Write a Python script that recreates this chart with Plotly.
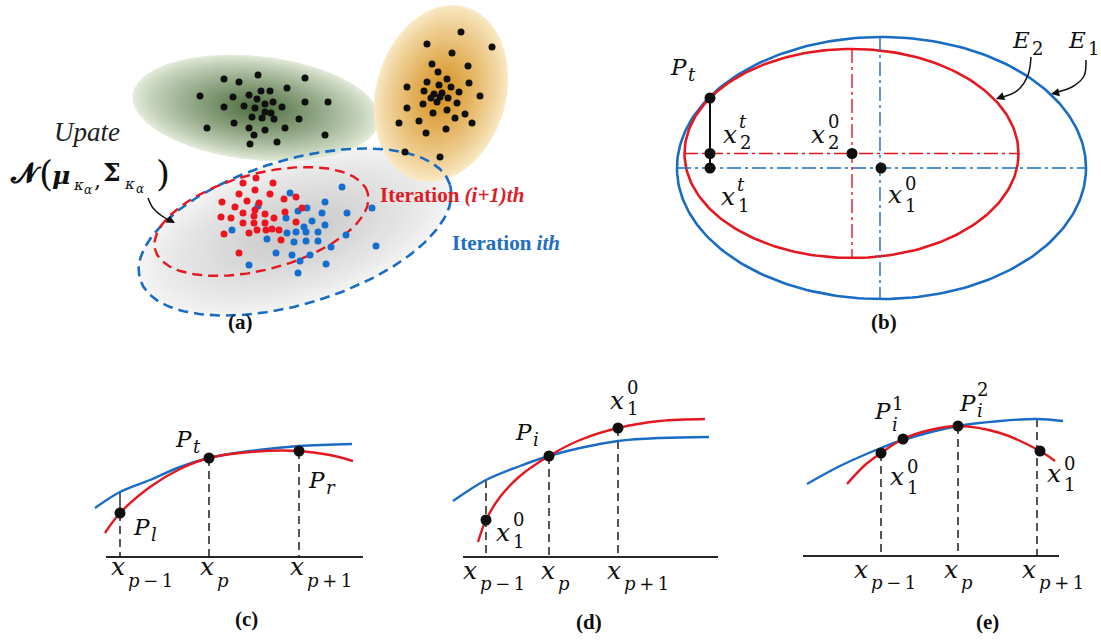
import numpy as np
import plotly.graph_objects as go

W, H = 1101, 642
SERIF = "Liberation Serif"
MATH = "DejaVu Serif"

# ---------------- data: panel (a) clusters ----------------
green_x = [224, 239, 258, 305, 200, 233, 249, 261, 270, 287, 305, 328, 224, 244, 255, 265, 273, 282, 257,
           265, 252, 262, 274, 299, 234, 207, 249, 265, 285, 254, 325, 250, 277, 271]
green_y = [79, 82, 75, 78, 96, 97, 95, 91, 91, 88, 102, 102, 107, 106, 108, 104, 102, 107, 99,
           112, 117, 118, 119, 119, 123, 128, 128, 130, 128, 135, 135, 144, 142, 113]
orange_x = [461, 427, 492, 452, 432, 468, 438, 447, 427, 407, 439, 451, 469, 424, 434, 442, 459, 480, 431,
            440, 448, 423, 437, 457, 407, 433, 447, 465, 455, 399, 419, 472, 426, 446, 405, 440]
orange_y = [32, 44, 47, 53, 64, 66, 72, 79, 82, 87, 85, 87, 83, 91, 94, 93, 92, 96, 98,
            97, 98, 104, 102, 103, 108, 113, 110, 114, 118, 123, 121, 123, 133, 129, 152, 157]
red_x = [243, 256, 273, 239, 255, 270, 222, 235, 247, 259, 284, 296, 302, 221, 231, 243, 255, 265, 274,
         285, 243, 254, 265, 296, 266, 272, 257, 279, 224, 249, 281, 239, 254]
red_y = [183, 178, 183, 194, 190, 194, 202, 207, 201, 203, 199, 197, 208, 217, 218, 213, 210, 214, 218,
         212, 223, 223, 223, 222, 230, 229, 230, 230, 234, 233, 240, 253, 216]
blue_x = [342, 290, 325, 307, 298, 322, 347, 372, 258, 286, 312, 325, 304, 232, 296, 306, 318, 267, 294,
          306, 318, 346, 331, 276, 292, 310, 376, 300, 249, 326, 298, 287]
blue_y = [187, 193, 202, 208, 211, 213, 213, 208, 206, 218, 221, 225, 227, 230, 232, 232, 232, 239, 242,
          241, 241, 235, 247, 253, 255, 255, 246, 261, 265, 264, 273, 233]

# ellipses: centre x, centre y, semi-axis a, semi-axis b, rotation (deg)
ell_green = (256, 108, 124, 52, -6)
ell_orange = (441, 93.5, 65, 90, -16)
ell_gray = (295, 232, 162, 72, 17)
ell_red_iter = (261.5, 221.5, 110, 48, 15)

# ---------------- data: panel (b) ----------------
ell_E1 = (881.5, 168, 204.5, 131, 0)
ell_E2 = (851.5, 153.5, 167, 104.5, 0)
b_pts_x = [710, 710, 710, 852, 881]
b_pts_y = [98, 153.5, 168, 153.5, 168]

# ---------------- data: panels (c)(d)(e) curves ----------------
blue_c_x = [95, 120, 150, 180, 209, 250, 299, 352]
blue_c_y = [508, 492, 480, 467, 458, 451, 446, 444]
red_c_x = [105, 120, 150, 180, 209, 250, 299, 330, 353]
red_c_y = [533, 513, 487, 469, 458, 452, 451, 455, 461]
c_pts_x = [120, 209, 299]
c_pts_y = [513, 458, 451]

blue_d_x = [453, 486, 520, 549, 580, 618, 660, 709]
blue_d_y = [501, 480, 466, 456, 448, 441, 438, 437]
red_d_x = [478, 486, 500, 520, 549, 580, 618, 660, 705]
red_d_y = [542, 520, 497, 476, 456, 440, 428, 421, 419]
d_pts_x = [486, 549, 618]
d_pts_y = [520, 456, 428]

blue_e_x = [807, 840, 881, 903, 958, 1000, 1037, 1063]
blue_e_y = [484, 466, 448, 440, 426, 421, 419, 421]
red_e_x = [847, 865, 881, 903, 930, 958, 1000, 1040, 1055]
red_e_y = [484, 465, 453, 439, 430, 426, 433, 451, 461]
e_pts_x = [881, 903, 958, 1040]
e_pts_y = [453, 439, 426, 451]

BLUE = "rgb(25,108,196)"
RED = "rgb(228,24,32)"
BLACK = "rgb(15,15,15)"

fig = go.Figure()


def ellipse_xy(e, s=1.0, n=240):
    cx, cy, a, b, ang = e
    t = np.linspace(0, 2 * np.pi, n)
    ca, sa = np.cos(np.radians(ang)), np.sin(np.radians(ang))
    x = cx + s * (a * np.cos(t) * ca - b * np.sin(t) * sa)
    y = cy - s * (a * np.cos(t) * sa + b * np.sin(t) * ca)
    return x, y


def line(x, y, color, width, dash=None, shape="linear"):
    fig.add_trace(go.Scatter(x=x, y=y, mode="lines", hoverinfo="skip",
                             line=dict(color=color, width=width, dash=dash, shape=shape, smoothing=1.0)))


def gradient(e, c_edge, c_mid, n=48, power=0.85):
    for k in range(n):
        s = 1 - k / n
        t = (k / (n - 1)) ** power
        col = [int(round(c_edge[i] + (c_mid[i] - c_edge[i]) * t)) for i in range(3)]
        x, y = ellipse_xy(e, s)
        fig.add_trace(go.Scatter(x=x, y=y, mode="lines", fill="toself", hoverinfo="skip",
                                 fillcolor=f"rgb({col[0]},{col[1]},{col[2]})", line=dict(width=0)))


def dots(x, y, color, size):
    fig.add_trace(go.Scatter(x=x, y=y, mode="markers", hoverinfo="skip",
                             marker=dict(color=color, size=size, line=dict(width=0))))


# ---------- panel (a) ----------
gradient(ell_gray, (244, 244, 244), (200, 200, 200))
gradient(ell_green, (226, 235, 217), (78, 110, 64))
gradient(ell_orange, (249, 233, 197), (214, 144, 30))
x, y = ellipse_xy(ell_gray)
line(x, y, BLUE, 2.6, "10px,6px")
x, y = ellipse_xy(ell_red_iter)
line(x, y, RED, 2.4, "10px,6px")
dots(green_x, green_y, BLACK, 7)
dots(orange_x, orange_y, BLACK, 7)
dots(blue_x, blue_y, "rgb(20,110,205)", 7)
dots(red_x, red_y, "rgb(236,20,30)", 7)
# curved arrow
line([148, 153, 162, 171], [198, 208, 216, 221], BLACK, 1.5, shape="spline")

# ---------- panel (b) ----------
x, y = ellipse_xy(ell_E1)
line(x, y, BLUE, 2.6)
x, y = ellipse_xy(ell_E2)
line(x, y, RED, 2.6)
DD = "14px,4px,3px,4px"
line([677, 1086], [168, 168], BLUE, 1.4, DD)
line([880, 880], [37, 299], BLUE, 1.4, DD)
line([684, 1018], [153.5, 153.5], RED, 1.4, DD)
line([852, 852], [49, 258], RED, 1.4, DD)
line([710, 710], [98, 168], BLACK, 2)
dots(b_pts_x, b_pts_y, BLACK, 11)
line([1031, 1028, 1018, 1000], [57, 75, 90, 98], BLACK, 1.5, shape="spline")
line([1086, 1084, 1072, 1053], [60, 76, 87, 93], BLACK, 1.5, shape="spline")

# ---------- panels (c)(d)(e) ----------
VD = "8px,5px"
# (c)
line([106, 363], [557, 557], "rgb(40,40,40)", 2)
line([120, 120], [492, 513], BLACK, 1.3)
for px_, py_ in zip(c_pts_x, c_pts_y):
    line([px_, px_], [py_, 557], BLACK, 1.4, VD)
line(blue_c_x, blue_c_y, BLUE, 2.4, shape="spline")
line(red_c_x, red_c_y, RED, 2.4, shape="spline")
dots(c_pts_x, c_pts_y, BLACK, 11)
# (d)
line([463, 718], [557, 557], "rgb(40,40,40)", 2)
line([486, 486], [480, 557], BLACK, 1.4, VD)
for px_, py_ in zip(d_pts_x[1:], d_pts_y[1:]):
    line([px_, px_], [py_, 557], BLACK, 1.4, VD)
line(blue_d_x, blue_d_y, BLUE, 2.4, shape="spline")
line(red_d_x, red_d_y, RED, 2.4, shape="spline")
dots(d_pts_x, d_pts_y, BLACK, 11)
# (e)
line([803, 1059], [556, 556], "rgb(40,40,40)", 2)
line([881, 881], [453, 556], BLACK, 1.4, VD)
line([958, 958], [426, 556], BLACK, 1.4, VD)
line([1037, 1037], [419, 556], BLACK, 1.4, VD)
line(blue_e_x, blue_e_y, BLUE, 2.4, shape="spline")
line(red_e_x, red_e_y, RED, 2.4, shape="spline")
dots(e_pts_x, e_pts_y, BLACK, 11)

# ---------- text ----------
ann = []


def txt(x, y, s, size, color=BLACK, xanchor="center", family=MATH):
    ann.append(dict(x=x, y=y, xref="x", yref="y", text=s, showarrow=False,
                    font=dict(family=family, size=size, color=color),
                    xanchor=xanchor, yanchor="middle", borderpad=0))


def arrowhead(x, y, ax, ay):
    ann.append(dict(x=x, y=y, ax=ax, ay=ay, xref="x", yref="y", axref="x", ayref="y",
                    text="", showarrow=True, arrowhead=2, arrowsize=1.1, arrowwidth=1.5,
                    arrowcolor=BLACK))


XS, PS, SS = 25, 23, 18   # x glyph, P/E glyph and script sizes
TS = "\u2009"             # thin space
PM1 = "<i>p</i>" + TS + "−" + TS + "1"
PP1 = "<i>p</i>" + TS + "+" + TS + "1"


def X(cx, cy):
    txt(cx, cy - 2, "<i>x</i>", XS)


def P(cx, cy, s="P"):
    txt(cx, cy, f"<i>{s}</i>", PS)


def S(xl, cy, s):
    txt(xl, cy, s, SS, xanchor="left")


# (a)
txt(87, 132, "<i>Upate</i>", 27, "rgb(30,30,30)", family=SERIF)
txt(26, 172, "<b>𝓝</b>", 27)
txt(46, 173, "(", 36)
txt(61, 175, "<b><i>μ</i></b>", 25)
txt(78, 185, "<i>κ</i>", 15)
txt(88, 190, "<i>α</i>", 12)
txt(97, 180, ",", 22)
txt(112, 172, "<b>Σ</b>", 25)
txt(129, 184, "<i>κ</i>", 15)
txt(140, 189, "<i>α</i>", 12)
txt(163, 173, ")", 36)
arrowhead(175, 223, 166, 218)
txt(379, 195, "<b>Iteration <i>(i+1)th</i></b>", 21, "rgb(222,28,38)", xanchor="left", family=SERIF)
txt(451, 243, "<b>Iteration <i>ith</i></b>", 21, "rgb(30,110,195)", xanchor="left", family=SERIF)
txt(240, 322, "<b>(a)</b>", 21, family=SERIF)

# (b)
P(678, 67); S(687, 74, "<i>t</i>")
X(729.5, 136); S(738, 121, "<i>t</i>"); S(739, 142, "2")
X(818, 136); S(827, 121, "0"); S(827, 142, "2")
X(727.5, 198); S(736, 184, "<i>t</i>"); S(737, 205, "1")
X(895, 196); S(904, 183, "0"); S(904, 205, "1")
P(1021, 40, "E"); S(1031, 48, "2")
P(1077, 40, "E"); S(1087, 48, "1")
arrowhead(996, 99, 1003, 96.5)
arrowhead(1051, 94, 1058, 92.5)
txt(884, 322, "<b>(b)</b>", 21, family=SERIF)

# (c)
P(183, 439); S(192, 446, "<i>t</i>")
P(316, 480); S(325, 487, "<i>r</i>")
P(141, 527); S(150, 534, "<i>l</i>")
X(118, 568); S(127, 580, PM1)
X(207, 568); S(216, 580, "<i>p</i>")
X(297, 568); S(306, 580, PP1)
txt(246, 619, "<b>(c)</b>", 21, family=SERIF)

# (d)
P(523, 432); S(532, 439, "<i>i</i>")
X(617, 402); S(626, 387, "0"); S(626, 408, "1")
X(503, 534); S(512, 519, "0"); S(512, 541, "1")
X(470, 572); S(479, 583, PM1)
X(548, 572); S(557, 583, "<i>p</i>")
X(614, 572); S(623, 583, PP1)
txt(589, 622, "<b>(d)</b>", 21, family=SERIF)

# (e)
P(882, 411); S(891, 403, "1"); S(891, 424, "<i>i</i>")
P(967, 403); S(976, 389, "2"); S(976, 410, "<i>i</i>")
X(897, 478); S(906, 466, "0"); S(906, 487, "1")
X(1054, 475); S(1063, 463, "0"); S(1063, 484, "1")
X(861, 571); S(870, 582, PM1)
X(951, 571); S(960, 582, "<i>p</i>")
X(1029, 571); S(1038, 582, PP1)
txt(987, 622, "<b>(e)</b>", 21, family=SERIF)

fig.update_layout(
    width=W, height=H, autosize=False,
    margin=dict(l=0, r=0, t=0, b=0, pad=0),
    paper_bgcolor="white", plot_bgcolor="white",
    showlegend=False,
    xaxis=dict(range=[0, W], visible=False, fixedrange=True),
    yaxis=dict(range=[H, 0], visible=False, fixedrange=True),
    annotations=ann,
)

fig.write_html("out.html")
